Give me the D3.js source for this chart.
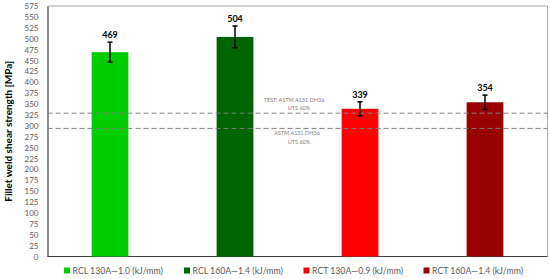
<!DOCTYPE html>
<html>
<head>
<meta charset="utf-8">
<script src="https://cdn.jsdelivr.net/npm/d3@7"></script>
<style>
  html, body { margin: 0; padding: 0; background: #fff; }
  svg { display: block; font-family: Lato, "Open Sans", sans-serif; }
</style>
</head>
<body>
<div id="chart"></div>
<script>
// Chart data
const categories = ["RCL 130A\u20141.0 (kJ/mm)", "RCL 160A\u20141.4 (kJ/mm)", "RCT 130A\u20140.9 (kJ/mm)", "RCT 160A\u20141.4 (kJ/mm)"];
const values = [469, 504, 339, 354];
const errors = [23, 25, 16, 16.5];
const colors = ["#00cc00", "#006400", "#ff0000", "#990000"];
const yTicks = d3.range(0, 576, 25);
const refLines = [329, 294];
const refLabels = [["TEST: ASTM A131 DH36", "UTS 60%"], ["ASTM A131 DH36", "UTS 60%"]];

const width = 550, height = 279;
const margin = {top: 6, right: 2.5, bottom: 22.5, left: 47.5};

const svg = d3.select("#chart")
    .append("svg")
    .attr("width", width)
    .attr("height", height);

const x = d3.scaleBand()
    .domain(categories)
    .range([margin.left, width - margin.right])
    .paddingInner(0.706)
    .paddingOuter(0.353);

const y = d3.scaleLinear()
    .domain([0, 575])
    .range([height - margin.bottom, margin.top]);

// Plot frame (top/right light, left/bottom dark)
svg.append("line")
    .attr("x1", margin.left).attr("x2", width - margin.right)
    .attr("y1", y(575)).attr("y2", y(575))
    .attr("stroke", "#a6a6a6").attr("stroke-width", 1);
svg.append("line")
    .attr("x1", width - margin.right).attr("x2", width - margin.right)
    .attr("y1", y(575)).attr("y2", y(0))
    .attr("stroke", "#a6a6a6").attr("stroke-width", 1);

// Y axis
const yAxis = svg.append("g")
    .attr("transform", `translate(${margin.left},0)`)
    .call(d3.axisLeft(y).tickValues(yTicks).tickSize(0).tickPadding(9));
yAxis.select(".domain").attr("stroke", "#404040").attr("stroke-width", 1.2);
yAxis.selectAll("text")
    .attr("fill", "#595959")
    .style("font-size", "8px")
    .style("font-family", "Lato, sans-serif");

// Bottom axis line
svg.append("line")
    .attr("x1", margin.left).attr("x2", width - margin.right)
    .attr("y1", y(0)).attr("y2", y(0))
    .attr("stroke", "#404040").attr("stroke-width", 1.2);

// Bars
svg.selectAll("rect.bar")
    .data(categories)
    .enter()
    .append("rect")
    .attr("class", "bar")
    .attr("x", d => x(d))
    .attr("width", x.bandwidth())
    .attr("y", (d, i) => y(values[i]))
    .attr("height", (d, i) => y(0) - y(values[i]))
    .attr("fill", (d, i) => colors[i]);

// Reference lines
refLines.forEach(v => {
    svg.append("line")
        .attr("x1", margin.left).attr("x2", width - margin.right)
        .attr("y1", y(v)).attr("y2", y(v))
        .attr("stroke", "#808080")
        .attr("stroke-width", 1)
        .attr("stroke-dasharray", "5,3");
});

// Reference labels
const refText = svg.append("g")
    .attr("fill", "#808080")
    .style("font-size", "5.5px")
    .attr("text-anchor", "middle");
refText.append("text").attr("x", 294).attr("y", y(refLines[0]) - 11).text(refLabels[0][0]);
refText.append("text").attr("x", 299).attr("y", y(refLines[0]) - 3).text(refLabels[0][1]);
refText.append("text").attr("x", 297).attr("y", y(refLines[1]) + 7).text(refLabels[1][0]);
refText.append("text").attr("x", 299).attr("y", y(refLines[1]) + 15.5).text(refLabels[1][1]);

// Error bars
const err = svg.selectAll("g.err")
    .data(categories)
    .enter()
    .append("g")
    .attr("class", "err")
    .attr("stroke", "#000")
    .attr("stroke-width", 1.5);
err.append("line")
    .attr("x1", d => x(d) + x.bandwidth() / 2)
    .attr("x2", d => x(d) + x.bandwidth() / 2)
    .attr("y1", (d, i) => y(values[i] + errors[i]))
    .attr("y2", (d, i) => y(values[i] - errors[i]));
[1, -1].forEach(s => {
    err.append("line")
        .attr("x1", d => x(d) + x.bandwidth() / 2 - 2.5)
        .attr("x2", d => x(d) + x.bandwidth() / 2 + 2.5)
        .attr("y1", (d, i) => y(values[i] + s * errors[i]))
        .attr("y2", (d, i) => y(values[i] + s * errors[i]));
});

// Value labels
svg.selectAll("text.val")
    .data(categories)
    .enter()
    .append("text")
    .attr("class", "val")
    .attr("x", d => x(d) + x.bandwidth() / 2)
    .attr("y", (d, i) => y(values[i] + errors[i]) - 4)
    .attr("text-anchor", "middle")
    .style("font-size", "9px")
    .style("font-weight", "bold")
    .attr("fill", "#000")
    .text((d, i) => values[i]);

// Y axis title
svg.append("text")
    .attr("transform", `translate(11.5,${(y(0) + y(575)) / 2}) rotate(-90)`)
    .attr("text-anchor", "middle")
    .style("font-size", "10px")
    .style("font-weight", "bold")
    .attr("fill", "#000")
    .text("Fillet weld shear strength [MPa]");

// Legend
const legendX = [64, 184, 303.5, 423.5];
const legend = svg.selectAll("g.legend")
    .data(categories)
    .enter()
    .append("g")
    .attr("class", "legend")
    .attr("transform", (d, i) => `translate(${legendX[i]},270.5)`);
legend.append("rect")
    .attr("x", 0).attr("y", -3)
    .attr("width", 6).attr("height", 6)
    .attr("fill", (d, i) => colors[i]);
legend.append("text")
    .attr("x", 8.5)
    .attr("y", 3)
    .style("font-size", "8.7px")
    .attr("fill", "#595959")
    .text(d => d);
</script>
</body>
</html>
